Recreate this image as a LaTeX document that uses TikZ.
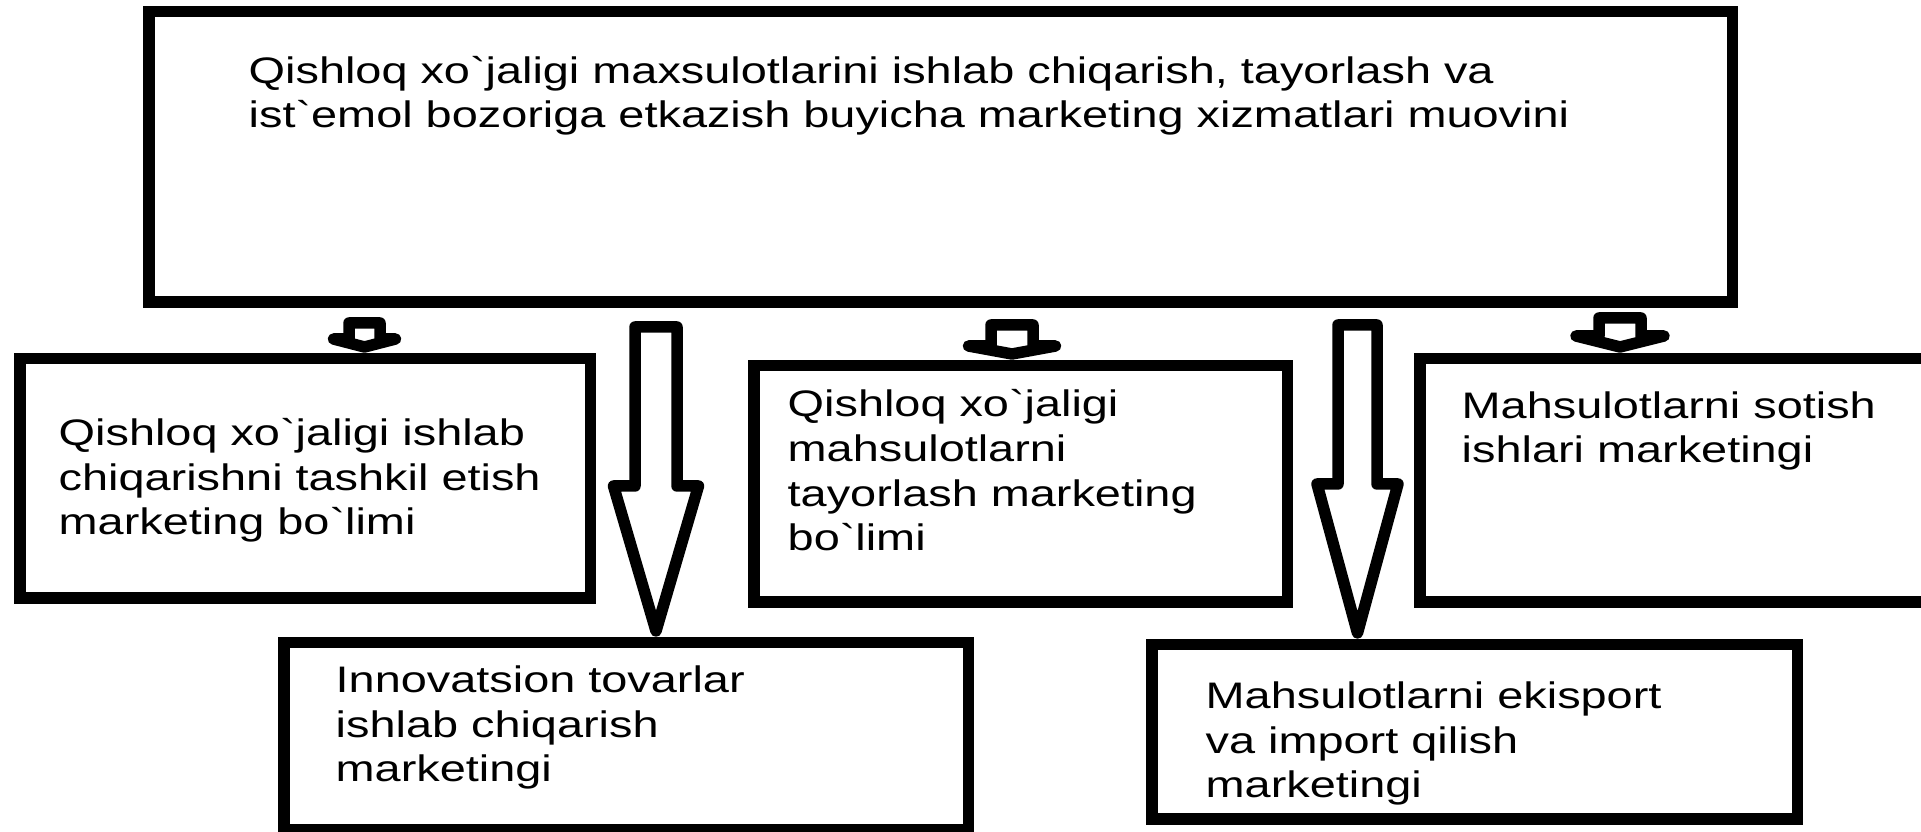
\documentclass[tikz,border=0pt]{standalone}
\usepackage{fontspec}
\setmainfont{Liberation Sans}[FakeStretch=1.27,Ligatures=TeXOff]
\usetikzlibrary{calc}

\tikzset{
  quti/.style={draw, line width=0.115cm, inner sep=0pt, anchor=north west},
  matn/.style={anchor=base west, align=left, inner sep=0pt, font=\fontsize{10.5pt}{12.8pt}\selectfont},
  strelka/.style={line width=0.115cm, line join=round}
}

% #1 x, #2 pastki blok, #3 tepadagi oraliq, #4 tana yarmi, #5 uch yarmi, #6 uch uzunligi
\newcommand{\blokstrelka}[6]{%
  \coordinate (bosh) at ($(muovin.south -| #1)+(0,-#3)$);
  \coordinate (uch) at ($(#2.north -| #1)+(0,0.06)$);
  \draw[strelka] ($(bosh)+(-#4,0)$) -- ($(uch)+(-#4,#6)$) -- ($(uch)+(-#5,#6)$) -- (uch)
    -- ($(uch)+(#5,#6)$) -- ($(uch)+(#4,#6)$) -- ($(bosh)+(#4,0)$) -- cycle;
}

\begin{document}
\begin{tikzpicture}
	\useasboundingbox (0,0) rectangle (19.21,-8.32);
	\clip (0,0) rectangle (19.21,-8.32);

	% bloklar
	\node[quti, minimum width=15.835cm, minimum height=2.905cm] (muovin) at (1.43,-0.06) {};
	\node[quti, minimum width=5.705cm, minimum height=2.395cm] (ishlab) at (0.14,-3.53) {};
	\node[quti, minimum width=6.845cm, minimum height=1.875cm] (innovatsiya) at (2.78,-6.37) {};
	\node[quti, minimum width=5.335cm, minimum height=2.365cm] (tayyorlash) at (7.48,-3.60) {};
	\node[quti, minimum width=5.745cm, minimum height=2.435cm] (sotish) at (14.14,-3.53) {};
	\node[quti, minimum width=6.455cm, minimum height=1.745cm] (eksport) at (11.46,-6.39) {};

	% matnlar (oxirgi qator asosidan)
	\node[matn] (muovinmatn) at ([xshift=1.05cm,yshift=-1.22cm]muovin.north west) {Qishloq xo`jaligi maxsulotlarini ishlab chiqarish, tayorlash va\\ist`emol bozoriga etkazish buyicha marketing xizmatlari muovini};
	\node[matn] (ishlabmatn) at ([xshift=0.44cm,yshift=-1.82cm]ishlab.north west) {Qishloq xo`jaligi ishlab\\chiqarishni tashkil etish\\marketing bo`limi};
	\node[matn] (innovatsiyamatn) at ([xshift=0.57cm,yshift=-1.45cm]innovatsiya.north west) {Innovatsion tovarlar\\ishlab chiqarish\\marketingi};
	\node[matn] (tayyorlashmatn) at ([xshift=0.39cm,yshift=-1.91cm]tayyorlash.north west) {Qishloq xo`jaligi\\mahsulotlarni\\tayorlash marketing\\bo`limi};
	\node[matn] (sotishmatn) at ([xshift=0.47cm,yshift=-1.10cm]sotish.north west) {Mahsulotlarni sotish\\ishlari marketingi};
	\node[matn] (eksportmatn) at ([xshift=0.59cm,yshift=-1.59cm]eksport.north west) {Mahsulotlarni ekisport\\va import qilish\\marketingi};

	% strelkalar
	\coordinate (k1) at (3.645,0);
	\coordinate (k2) at (6.56,0);
	\coordinate (k3) at (10.12,0);
	\coordinate (k4) at (13.575,0);
	\coordinate (k5) at (16.20,0);
	\blokstrelka{k1}{ishlab}{0.15}{0.155}{0.31}{0.08}
	\blokstrelka{k2}{innovatsiya}{0.19}{0.21}{0.425}{1.45}
	\blokstrelka{k3}{tayyorlash}{0.17}{0.21}{0.435}{0.08}
	\blokstrelka{k4}{eksport}{0.17}{0.195}{0.405}{1.49}
	\blokstrelka{k5}{sotish}{0.10}{0.21}{0.44}{0.11}
\end{tikzpicture}
\end{document}
